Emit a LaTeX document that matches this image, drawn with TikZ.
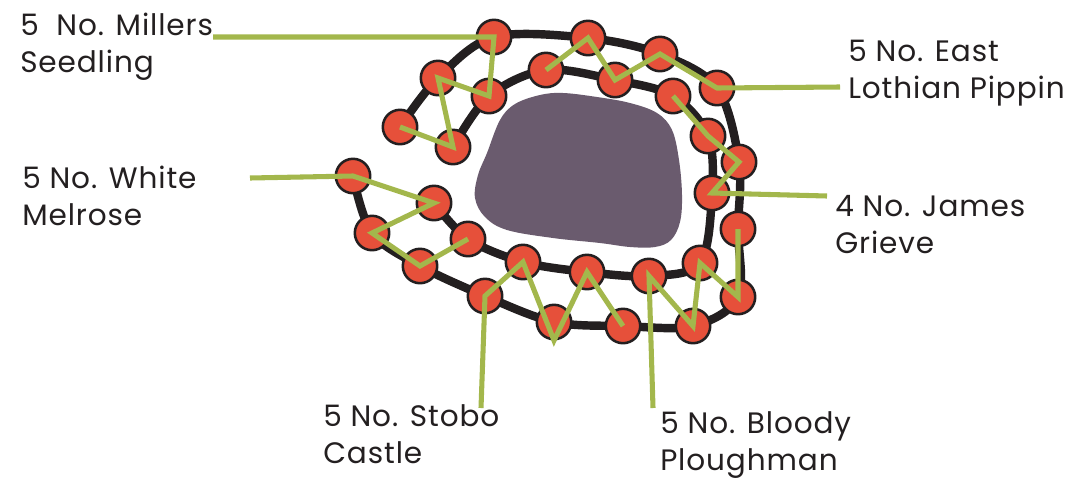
\documentclass[tikz,border=0pt]{standalone}
\usepackage{fontspec}
\setmainfont{Poppins}[LetterSpace=3]
\definecolor{appleRed}{HTML}{E6503A}
\definecolor{hedgeBlack}{HTML}{231F20}
\definecolor{leaderGreen}{HTML}{A3B74C}
\definecolor{bedPurple}{HTML}{6A5B6E}
\usetikzlibrary{backgrounds}

\begin{document}
\begin{tikzpicture}[
        x=0.025cm, y=-0.025cm,
        apple/.style={circle, draw=hedgeBlack, fill=appleRed, line width=1.8pt,
                      minimum size=0.86cm, inner sep=0pt},
        hedge/.style={draw=hedgeBlack, line width=6pt, line cap=round, line join=round},
        leader/.style={draw=leaderGreen, line width=3.6pt, line join=miter},
        variety/.style={font=\fontsize{21}{26}\selectfont, text=hedgeBlack,
                        align=left, anchor=base west, inner sep=0pt},
      ]
        \useasboundingbox (0,0) rectangle (1090,481);
        % Aiuola centrale
        \fill[bedPurple] plot[smooth cycle, tension=0.6] coordinates {
          (487,153) (500,120) (515,104) (540,95) (563,93) (597,97) (630,103)
          (657,113) (672,130) (679,160) (682,195) (680,222) (671,240) (655,247)
          (630,247) (600,243) (553,238) (507,230) (485,217) (475,198) (478,175)};
        % Meli: Millers Seedling
        \node[apple] (ms1) at (494,37) {};
        \node[apple] (ms2) at (489,96) {};
        \node[apple] (ms3) at (438,78) {};
        \node[apple] (ms4) at (453,147) {};
        \node[apple] (ms5) at (400,127) {};
        % Meli: East Lothian Pippin
        \node[apple] (lp1) at (546,70) {};
        \node[apple] (lp2) at (588,38) {};
        \node[apple] (lp3) at (615,80) {};
        \node[apple] (lp4) at (660,54) {};
        \node[apple] (lp5) at (717,88) {};
        % Meli: James Grieve
        \node[apple] (jg1) at (673,96) {};
        \node[apple] (jg2) at (708,136) {};
        \node[apple] (jg3) at (739,162) {};
        \node[apple] (jg4) at (712,193) {};
        % Meli: White Melrose
        \node[apple] (wm1) at (353,176) {};
        \node[apple] (wm2) at (434,203) {};
        \node[apple] (wm3) at (372,233) {};
        \node[apple] (wm4) at (420,266) {};
        \node[apple] (wm5) at (468,239) {};
        % Meli: Stobo Castle
        \node[apple] (sc1) at (485,296) {};
        \node[apple] (sc2) at (523,262) {};
        \node[apple] (sc3) at (554,322) {};
        \node[apple] (sc4) at (587,272) {};
        \node[apple] (sc5) at (623,326) {};
        % Meli: Bloody Ploughman
        \node[apple] (bp1) at (649,276) {};
        \node[apple] (bp2) at (693,326) {};
        \node[apple] (bp3) at (700,263) {};
        \node[apple] (bp4) at (738,297) {};
        \node[apple] (bp5) at (738,229) {};
        % Siepi: sotto i meli
        \begin{scope}[on background layer]
          \draw[hedge] plot[smooth, tension=0.55] coordinates {
            (ms5.center) (ms3.center) (ms1.center) (lp2.center) (lp4.center)
            (lp5.center) (jg3.center) (bp5.center) (bp4.center) (bp2.center)
            (sc5.center) (sc3.center) (sc1.center) (wm4.center) (wm3.center)
            (wm1.center)};
          \draw[hedge] plot[smooth, tension=0.55] coordinates {
            (ms4.center) (ms2.center) (lp1.center) (lp3.center) (jg1.center)
            (jg2.center) (jg4.center) (bp3.center) (bp1.center) (sc4.center)
            (sc2.center) (wm5.center) (wm2.center)};
        \end{scope}
        % Etichette (base = ultima riga)
        \node[variety] (millers) at (20,72) {5\ \ No. Millers\\Seedling};
        \node[variety] (melrose) at (22,225) {5 No. White\\Melrose};
        \node[variety] (lothian) at (848,98) {5 No. East\\Lothian Pippin};
        \node[variety] (grieve) at (835,253) {4 No. James\\Grieve};
        \node[variety] (stobo) at (323,463) {5 No. Stobo\\Castle};
        \node[variety] (bloody) at (660,470) {5 No. Bloody\\Ploughman};
        % Estremi liberi delle linee
        \coordinate (msEnd) at (213,37);
        \coordinate (lpEnd) at (840,87);
        \coordinate (jgEnd) at (827,196);
        \coordinate (wmEnd) at (250,178);
        \coordinate (scEnd) at (481,408);
        \coordinate (bpEnd) at (653,408);
        % Linee di richiamo
        \draw[leader] (msEnd) -- (ms1.center) -- (ms2.center) -- (ms3.center)
          -- (ms4.center) -- (ms5.center);
        \draw[leader] (lpEnd) -- (lp5.center) -- (lp4.center) -- (lp3.center)
          -- (lp2.center) -- (lp1.center);
        \draw[leader] (jgEnd) -- (jg4.center) -- (jg3.center) -- (jg2.center)
          -- (jg1.center);
        \draw[leader] (wmEnd) -- (wm1.center) -- (wm2.center) -- (wm3.center)
          -- (wm4.center) -- (wm5.center);
        \draw[leader] (scEnd) -- (sc1.center) -- (sc2.center) -- (sc3.south)
          -- (sc4.center) -- (sc5.center);
        \draw[leader] (bpEnd) -- (bp1.center) -- (bp2.center) -- (bp3.center)
          -- (bp4.center) -- (bp5.center);
      \end{tikzpicture}
\end{document}
